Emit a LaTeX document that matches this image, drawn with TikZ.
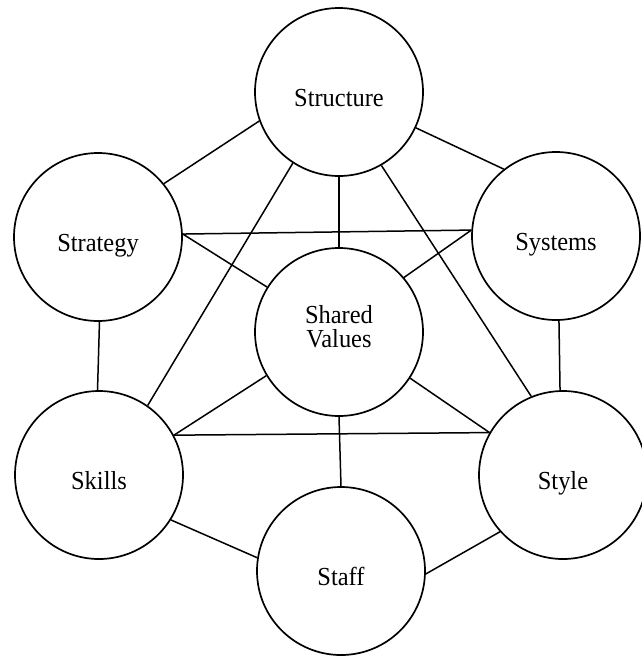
\documentclass[tikz,border=0pt]{standalone}
\usepackage{fontspec}
\setmainfont[FakeStretch=0.94]{Liberation Serif}
\begin{document}
\begin{tikzpicture}[x=1pt,y=-1pt,
  sbox/.style={circle,draw,line width=1.7pt,minimum size=168pt,inner sep=0pt,
    font=\fontsize{26}{24}\selectfont,align=center,text height=28pt,text depth=0pt},
  twoline/.style={text height=,text depth=12pt},
  link/.style={line width=1.5pt}]
\useasboundingbox (0,0) rectangle (641,656);
\node[sbox] (structure) at (339,92) {Structure};
\node[sbox] (strategy) at (98,237) {Strategy};
\node[sbox] (systems) at (556,236) {Systems};
\node[sbox,twoline] (shared) at (339,332) {Shared\\Values};
\node[sbox] (skills) at (99,475) {Skills};
\node[sbox] (style) at (563,475) {Style};
\node[sbox] (staff) at (341,571) {Staff};
\draw[link] (structure.200.3) -- (strategy.39.5);
\draw[link] (structure.335) -- (systems.128);
\draw[link] (structure.237.4) -- (skills.55.2);
\draw[link] (structure.south) -- (shared.north);
\draw[link] (structure.300.7) -- (style.112.2);
\draw[link] (strategy.2.7) -- (systems.176.6);
\draw[link] (strategy.2.7) -- (shared.148.2);
\draw[link] (systems.176.6) -- (shared.40.7);
\draw[link] (strategy.271) -- (skills.91);
\draw[link] (systems.272) -- (style.92.7);
\draw[link] (shared.211.2) -- (skills.28);
\draw[link] (shared.327.4) -- (style.150.8);
\draw[link] (skills.28) -- (style.150.8);
\draw[link] (shared.south) -- (staff.north);
\draw[link] (skills.328.5) -- (staff.171.8);
\draw[link] (style.222.7) -- (staff.358.7);
\end{tikzpicture}
\end{document}
